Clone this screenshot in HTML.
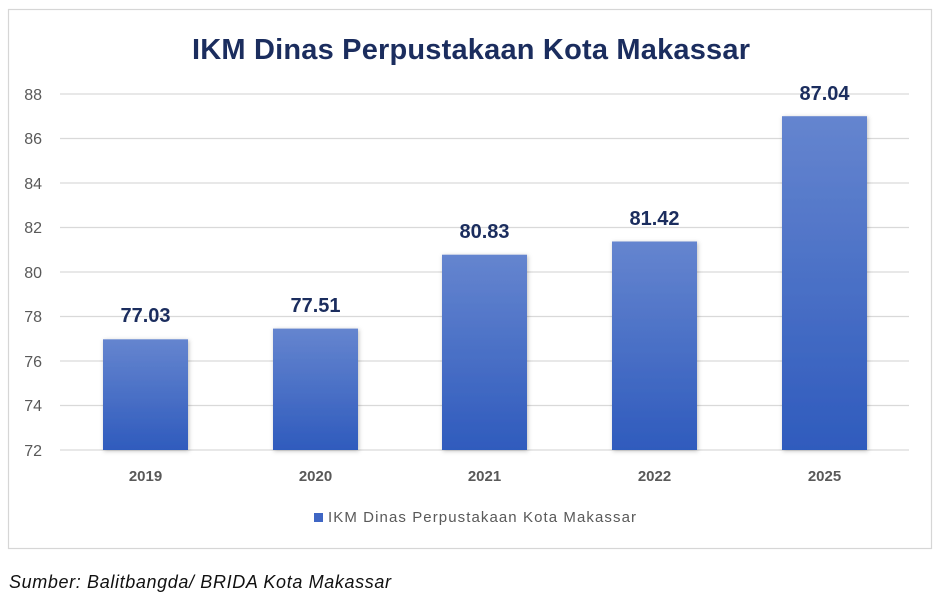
<!DOCTYPE html>
<html><head><style>body{margin:0;background:#fff;width:943px;height:604px;overflow:hidden}</style></head><body>
<svg width="943" height="604" xmlns="http://www.w3.org/2000/svg" font-family="Liberation Sans, sans-serif">
<defs><linearGradient id="g" x1="0" y1="0" x2="0" y2="1"><stop offset="0" stop-color="#6585cf"/><stop offset="1" stop-color="#2f5bbd"/></linearGradient>
<filter id="s" x="-20%" y="-20%" width="140%" height="140%"><feDropShadow dx="1" dy="1" stdDeviation="2" flood-color="#000" flood-opacity="0.25"/></filter></defs>
<rect x="8.5" y="9.5" width="923" height="539" fill="#fff" stroke="#d6d6d6" stroke-width="1.2"/>
<text x="471" y="59" text-anchor="middle" font-size="29" font-weight="bold" fill="#1b2d5e" textLength="558">IKM Dinas Perpustakaan Kota Makassar</text>
<g stroke="#d9d9d9" stroke-width="1.3">
<line x1="60" x2="909" y1="94" y2="94"/><line x1="60" x2="909" y1="138.5" y2="138.5"/><line x1="60" x2="909" y1="183" y2="183"/><line x1="60" x2="909" y1="227.5" y2="227.5"/><line x1="60" x2="909" y1="272" y2="272"/><line x1="60" x2="909" y1="316.5" y2="316.5"/><line x1="60" x2="909" y1="361" y2="361"/><line x1="60" x2="909" y1="405.5" y2="405.5"/><line x1="60" x2="909" y1="450" y2="450"/>
</g>
<g font-size="16" fill="#595959" text-anchor="end">
<text x="42" y="100">88</text><text x="42" y="144">86</text><text x="42" y="189">84</text><text x="42" y="233">82</text><text x="42" y="278">80</text><text x="42" y="322">78</text><text x="42" y="367">76</text><text x="42" y="411">74</text><text x="42" y="456">72</text>
</g>
<g fill="url(#g)" filter="url(#s)">
<rect x="103" y="339.3" width="85" height="110.7"/>
<rect x="273" y="328.6" width="85" height="121.4"/>
<rect x="442" y="254.7" width="85" height="195.3"/>
<rect x="612" y="241.5" width="85" height="208.5"/>
<rect x="782" y="116.2" width="85" height="333.8"/>
</g>
<g font-size="20" font-weight="bold" fill="#1b2d5e" text-anchor="middle">
<text x="145.5" y="322">77.03</text><text x="315.5" y="312">77.51</text><text x="484.5" y="238">80.83</text><text x="654.5" y="225">81.42</text><text x="824.5" y="100">87.04</text>
</g>
<g font-size="15" font-weight="bold" fill="#595959" text-anchor="middle">
<text x="145.5" y="481">2019</text><text x="315.5" y="481">2020</text><text x="484.5" y="481">2021</text><text x="654.5" y="481">2022</text><text x="824.5" y="481">2025</text>
</g>
<rect x="314" y="513" width="9" height="9" fill="#3f66c4"/>
<text x="328" y="522" font-size="15" fill="#595959" textLength="308">IKM Dinas Perpustakaan Kota Makassar</text>
<text x="9" y="588" font-size="18" font-style="italic" fill="#111" textLength="382">Sumber: Balitbangda/ BRIDA Kota Makassar</text>
</svg>
</body></html>
